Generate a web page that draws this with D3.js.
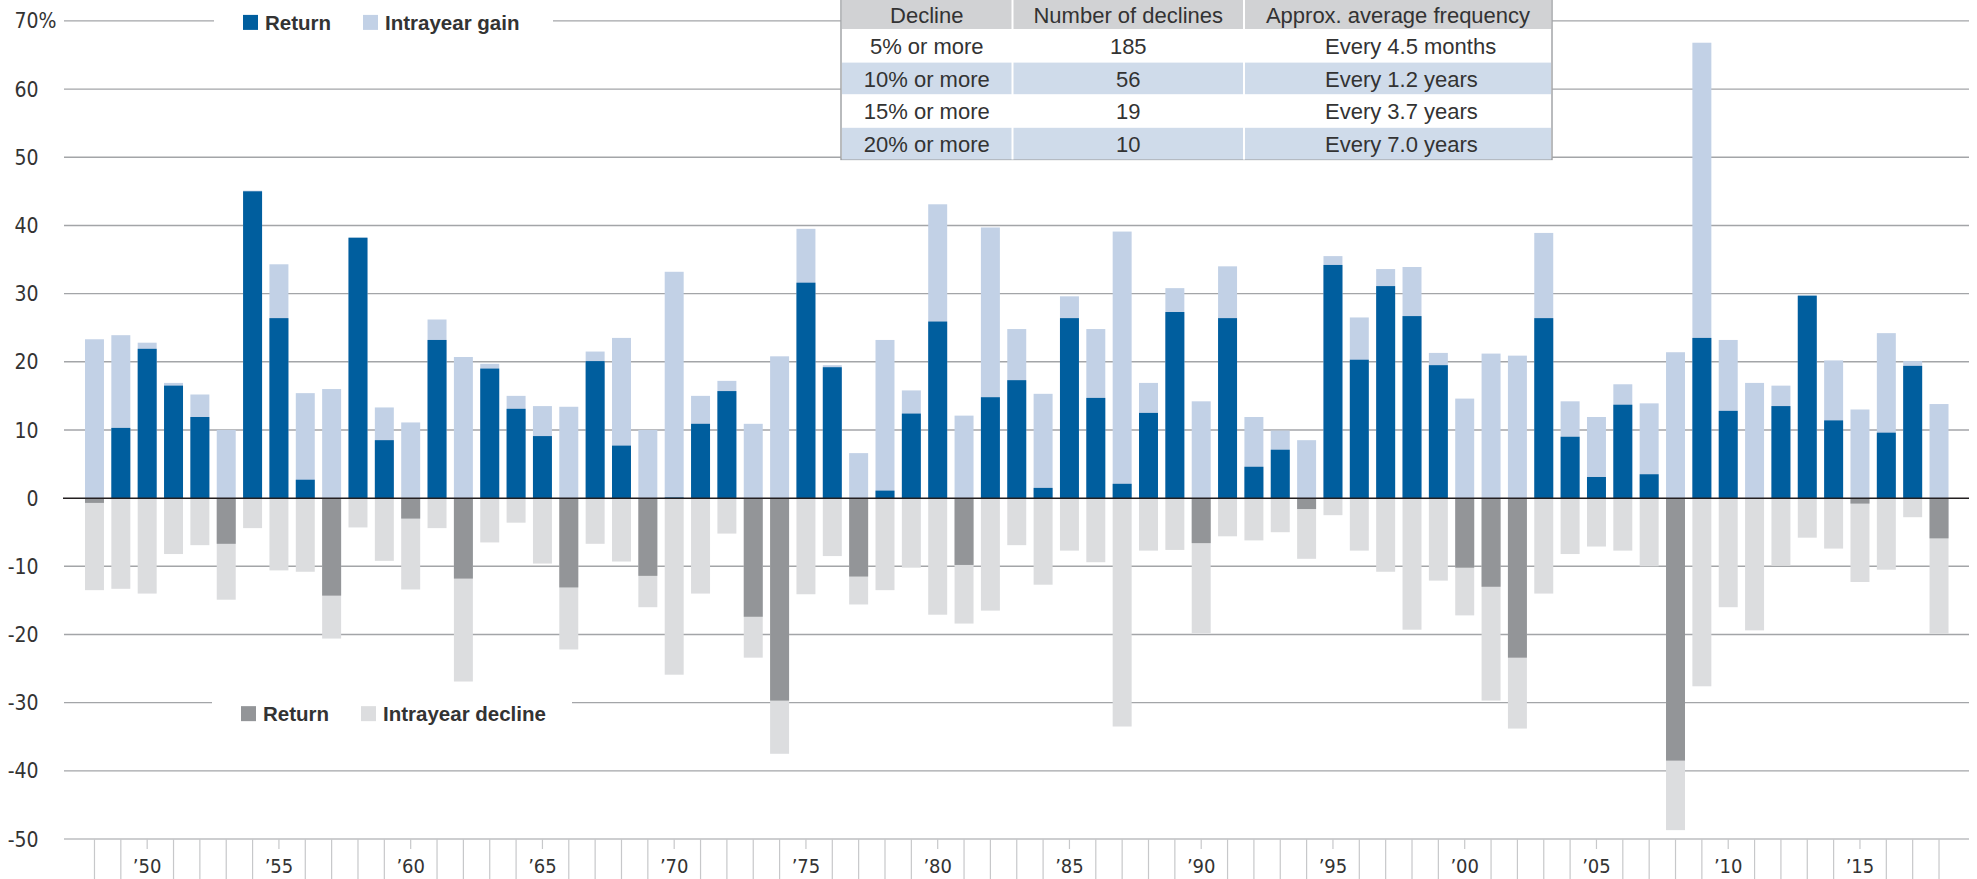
<!DOCTYPE html>
<html>
<head>
<meta charset="utf-8">
<script src="https://cdn.jsdelivr.net/npm/d3@7"></script>
<style>
  body { margin: 0; background: #fff; }
  text { font-family: "Liberation Sans", Arial, sans-serif; fill: #333; }
  .axis text { font-family: "Liberation Sans Narrow", "DejaVu Sans Condensed", "Liberation Sans", sans-serif; }
</style>
</head>
<body>
<div id="chart"></div>
<script>
// years shown on the chart
var years = [1948, 1949, 1950, 1951, 1952, 1953, 1954, 1955, 1956, 1957, 1958, 1959,
    1960, 1961, 1962, 1963, 1964, 1965, 1966, 1967, 1968, 1969,
    1970, 1971, 1972, 1973, 1974, 1975, 1976, 1977, 1978, 1979,
    1980, 1981, 1982, 1983, 1984, 1985, 1986, 1987, 1988, 1989,
    1990, 1991, 1992, 1993, 1994, 1995, 1996, 1997, 1998, 1999,
    2000, 2001, 2002, 2003, 2004, 2005, 2006, 2007, 2008, 2009,
    2010, 2011, 2012, 2013, 2014, 2015, 2016, 2017, 2018];

// calendar-year return (%)
var returns = [-0.7, 10.3, 21.9, 16.5, 11.9, -6.7, 45.0, 26.4, 2.7, -14.3, 38.2, 8.5,
    -3.0, 23.2, -11.8, 19.0, 13.1, 9.1, -13.1, 20.1, 7.7, -11.4,
    0.1, 10.9, 15.7, -17.4, -29.7, 31.6, 19.2, -11.5, 1.1, 12.4,
    25.9, -9.8, 14.8, 17.3, 1.5, 26.4, 14.7, 2.1, 12.5, 27.3,
    -6.6, 26.4, 4.6, 7.1, -1.6, 34.2, 20.3, 31.1, 26.7, 19.5,
    -10.2, -13.0, -23.4, 26.4, 9.0, 3.1, 13.7, 3.5, -38.5, 23.5,
    12.8, 0.0, 13.5, 29.7, 11.4, -0.8, 9.6, 19.4, -5.9];

// intrayear gain (%)
var gains = [23.3, 23.9, 22.8, 16.9, 15.2, 10.0, 45.1, 34.3, 15.4, 16.0, 38.2, 13.3,
    11.1, 26.2, 20.7, 19.7, 15.0, 13.5, 13.4, 21.5, 23.5, 10.0,
    33.2, 15.0, 17.2, 10.9, 20.8, 39.5, 19.5, 6.6, 23.2, 15.8,
    43.1, 12.1, 39.7, 24.8, 15.3, 29.6, 24.8, 39.1, 16.9, 30.8,
    14.2, 34.0, 11.9, 9.9, 8.5, 35.5, 26.5, 33.6, 33.9, 21.3,
    14.6, 21.2, 20.9, 38.9, 14.2, 11.9, 16.7, 13.9, 21.4, 66.8,
    23.2, 16.9, 16.5, 29.7, 20.2, 13.0, 24.2, 20.1, 13.8];

// intrayear decline (%)
var declines = [-13.5, -13.3, -14.0, -8.2, -6.9, -14.9, -4.4, -10.6, -10.8, -20.6, -4.3, -9.2,
    -13.4, -4.4, -26.9, -6.5, -3.6, -9.6, -22.2, -6.7, -9.3, -16.0,
    -25.9, -14.0, -5.2, -23.4, -37.5, -14.1, -8.5, -15.6, -13.5, -10.2,
    -17.1, -18.4, -16.5, -6.9, -12.7, -7.7, -9.4, -33.5, -7.7, -7.6,
    -19.8, -5.6, -6.2, -5.0, -8.9, -2.5, -7.7, -10.8, -19.3, -12.1,
    -17.2, -29.7, -33.8, -14.0, -8.2, -7.1, -7.7, -10.0, -48.7, -27.6,
    -16.0, -19.4, -9.9, -5.8, -7.4, -12.3, -10.5, -2.8, -19.9];

var yTicks = [-50, -40, -30, -20, -10, 0, 10, 20, 30, 40, 50, 60, 70];

// table
var tableHeaders = ["Decline", "Number of declines", "Approx. average frequency"];
var declineLevels = ["5% or more", "10% or more", "15% or more", "20% or more"];
var declineCounts = ["185", "56", "19", "10"];
var declineFrequency = ["Every 4.5 months", "Every 1.2 years", "Every 3.7 years", "Every 7.0 years"];

var topLegend = [{label: "Return", color: "#005e9e"}, {label: "Intrayear gain", color: "#c2d1e6"}];
var bottomLegend = [{label: "Return", color: "#939598"}, {label: "Intrayear decline", color: "#dcdddf"}];

function init() {
    var w = 1977;
    var h = 879;

    var svg = d3.select("#chart")
        .append("svg")
        .attr("width", w)
        .attr("height", h);

    var data = years.map(function (d, i) {
        return {year: d, ret: returns[i], gain: gains[i], decline: declines[i]};
    });

    var y = d3.scaleLinear()
        .domain([-50, 70])
        .range([839, 20.9]);

    var x = d3.scaleBand()
        .domain(years)
        .range([81.3, 1952.2])
        .paddingInner(0.28)
        .paddingOuter(0.14);

    var gridLeft = 64;
    var gridRight = 1969;

    // gridlines
    svg.append("g")
        .selectAll("line")
        .data(yTicks.filter(d => d !== 0))
        .enter()
        .append("line")
        .attr("x1", gridLeft)
        .attr("x2", gridRight)
        .attr("y1", d => y(d))
        .attr("y2", d => y(d))
        .attr("stroke", d => d === -50 ? "#bcbec0" : "#a3a5a8")
        .attr("stroke-width", 1.4);

    // y labels
    var yAxis = svg.append("g").attr("class", "axis");
    yAxis.selectAll("text")
        .data(yTicks)
        .enter()
        .append("text")
        .attr("x", 38.5)
        .attr("y", d => y(d))
        .attr("dy", "0.36em")
        .attr("text-anchor", "end")
        .style("font-size", "21px")
        .text(d => d);
    yAxis.append("text")
        .attr("x", 38.5)
        .attr("y", y(70))
        .attr("dy", "0.36em")
        .style("font-size", "21px")
        .text("%");

    // bars
    var bars = svg.append("g");
    bars.selectAll(".gain")
        .data(data)
        .enter()
        .append("rect")
        .attr("class", "gain")
        .attr("x", d => x(d.year))
        .attr("width", x.bandwidth())
        .attr("y", d => y(d.gain))
        .attr("height", d => y(0) - y(d.gain))
        .attr("fill", "#c2d1e6");

    bars.selectAll(".decline")
        .data(data)
        .enter()
        .append("rect")
        .attr("class", "decline")
        .attr("x", d => x(d.year))
        .attr("width", x.bandwidth())
        .attr("y", y(0))
        .attr("height", d => y(d.decline) - y(0))
        .attr("fill", "#dcdddf");

    bars.selectAll(".ret")
        .data(data)
        .enter()
        .append("rect")
        .attr("class", "ret")
        .attr("x", d => x(d.year))
        .attr("width", x.bandwidth())
        .attr("y", d => y(Math.max(0, d.ret)))
        .attr("height", d => Math.abs(y(d.ret) - y(0)))
        .attr("fill", d => d.ret >= 0 ? "#005e9e" : "#939598");

    // zero line
    svg.append("line")
        .attr("x1", 63)
        .attr("x2", gridRight)
        .attr("y1", y(0))
        .attr("y2", y(0))
        .attr("stroke", "#231f20")
        .attr("stroke-width", 1.5);

    // x axis ticks and labels
    var xAxis = svg.append("g").attr("class", "axis");
    xAxis.selectAll("line")
        .data(years)
        .enter()
        .append("line")
        .attr("x1", d => x(d) + x.bandwidth() / 2)
        .attr("x2", d => x(d) + x.bandwidth() / 2)
        .attr("y1", y(-50))
        .attr("y2", d => d % 5 === 0 ? y(-50) + 10 : h)
        .attr("stroke", "#c7c8ca")
        .attr("stroke-width", 1.2);
    xAxis.selectAll("text")
        .data(years.filter(d => d % 5 === 0))
        .enter()
        .append("text")
        .attr("x", d => x(d) + x.bandwidth() / 2)
        .attr("y", 873)
        .attr("text-anchor", "middle")
        .style("font-size", "20px")
        .text(d => "\u2019" + String(d).slice(2));

    // legends
    function drawLegend(items, boxX, boxW, gy, offY) {
        var g = svg.append("g");
        g.append("rect")
            .attr("x", boxX)
            .attr("y", gy - 14)
            .attr("width", boxW)
            .attr("height", 34)
            .attr("fill", "#fff");
        var pos = [0, 120];
        items.forEach(function (item, i) {
            var lx = boxX + 29 + pos[i];
            g.append("rect")
                .attr("x", lx)
                .attr("y", gy + offY - 7.5)
                .attr("width", 15)
                .attr("height", 15)
                .attr("fill", item.color);
            g.append("text")
                .attr("x", lx + 22)
                .attr("y", gy + offY)
                .attr("dy", "0.36em")
                .style("font-size", "20.5px")
                .style("font-weight", "bold")
                .text(item.label);
        });
    }
    drawLegend(topLegend, 214, 339, y(70), 1.5);
    drawLegend(bottomLegend, 212, 360, y(-30), 11);

    // table
    var tX = [841, 1012.5, 1244, 1552];
    var headerH = 29;
    var rowH = 32.6;
    var fs = "22px";
    var table = svg.append("g");
    table.append("rect")
        .attr("x", tX[0])
        .attr("y", -2)
        .attr("width", tX[3] - tX[0])
        .attr("height", headerH + 4 * rowH + 2)
        .attr("fill", "#fff")
        .attr("stroke", "#a3a5a8")
        .attr("stroke-width", 1.5);
    table.append("rect")
        .attr("x", tX[0] + 1)
        .attr("y", 0)
        .attr("width", tX[3] - tX[0] - 2)
        .attr("height", headerH)
        .attr("fill", "#d1d2d4");
    table.selectAll(".row")
        .data(declineLevels)
        .enter()
        .append("rect")
        .attr("class", "row")
        .attr("x", tX[0] + 1)
        .attr("y", (d, i) => headerH + i * rowH + 1)
        .attr("width", tX[3] - tX[0] - 2)
        .attr("height", rowH - 1)
        .attr("fill", (d, i) => i % 2 === 1 ? "#cfdbea" : "#fff");
    table.selectAll(".sep")
        .data([tX[1], tX[2]])
        .enter()
        .append("line")
        .attr("class", "sep")
        .attr("x1", d => d)
        .attr("x2", d => d)
        .attr("y1", 0)
        .attr("y2", headerH + 4 * rowH)
        .attr("stroke", "#fff")
        .attr("stroke-width", 2);

    table.selectAll(".head")
        .data(tableHeaders)
        .enter()
        .append("text")
        .attr("class", "head")
        .attr("x", (d, i) => (tX[i] + tX[i + 1]) / 2)
        .attr("y", 15)
        .attr("dy", "0.36em")
        .attr("text-anchor", "middle")
        .style("font-size", fs)
        .text(d => d);

    var rowY = (d, i) => headerH + i * rowH + rowH / 2 + 1;
    table.selectAll(".c1")
        .data(declineLevels)
        .enter()
        .append("text")
        .attr("x", (tX[0] + tX[1]) / 2)
        .attr("y", rowY)
        .attr("dy", "0.36em")
        .attr("text-anchor", "middle")
        .style("font-size", fs)
        .text(d => d);
    table.selectAll(".c2")
        .data(declineCounts)
        .enter()
        .append("text")
        .attr("x", (tX[1] + tX[2]) / 2)
        .attr("y", rowY)
        .attr("dy", "0.36em")
        .attr("text-anchor", "middle")
        .style("font-size", fs)
        .text(d => d);
    table.selectAll(".c3")
        .data(declineFrequency)
        .enter()
        .append("text")
        .attr("x", 1325)
        .attr("y", rowY)
        .attr("dy", "0.36em")
        .style("font-size", fs)
        .text(d => d);
}

window.onload = init;
</script>
</body>
</html>
